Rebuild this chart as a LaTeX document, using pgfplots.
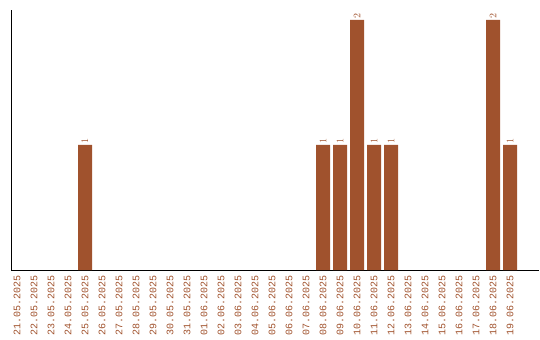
\documentclass[border=0pt]{standalone}
\usepackage{pgfplots}
\pgfplotsset{compat=1.18}
\usepackage{fontspec}
\setmainfont{Liberation Sans}
\newfontfamily\monofont{Liberation Mono}
\definecolor{barc}{HTML}{A0522D}
\begin{document}
\begin{tikzpicture}
\useasboundingbox (0,0) rectangle (540bp,340bp);
\begin{axis}[
  at={(11bp,70bp)}, anchor=south west,
  scale only axis, width=528bp, height=260bp,
  xmin=-0.353, xmax=30.7, ymin=0, ymax=2.08,
  axis x line=bottom, axis y line=left,
  axis line style={-, black, line width=1bp},
  ytick=\empty,
  xtick={0,...,29},
  major tick length=0pt,
  xticklabels={21.05.2025,22.05.2025,23.05.2025,24.05.2025,25.05.2025,26.05.2025,27.05.2025,28.05.2025,29.05.2025,30.05.2025,31.05.2025,01.06.2025,02.06.2025,03.06.2025,04.06.2025,05.06.2025,06.06.2025,07.06.2025,08.06.2025,09.06.2025,10.06.2025,11.06.2025,12.06.2025,13.06.2025,14.06.2025,15.06.2025,16.06.2025,17.06.2025,18.06.2025,19.06.2025},
  xticklabel style={rotate=90, anchor=east, font=\monofont\fontsize{10bp}{12bp}\selectfont, text=barc, inner sep=0pt, xshift=0bp},
  every tick label/.append style={yshift=-5bp},
  clip=false,
]
\addplot[ybar, bar width=14bp, fill=barc, draw=none,
  nodes near coords,
  every node near coord/.append style={rotate=90, anchor=west, font=\monofont\fontsize{10bp}{11bp}\selectfont, text=barc, inner sep=1bp}]
  coordinates {(4,1) (18,1) (19,1) (20,2) (21,1) (22,1) (28,2) (29,1)};
\end{axis}
\end{tikzpicture}
\end{document}
